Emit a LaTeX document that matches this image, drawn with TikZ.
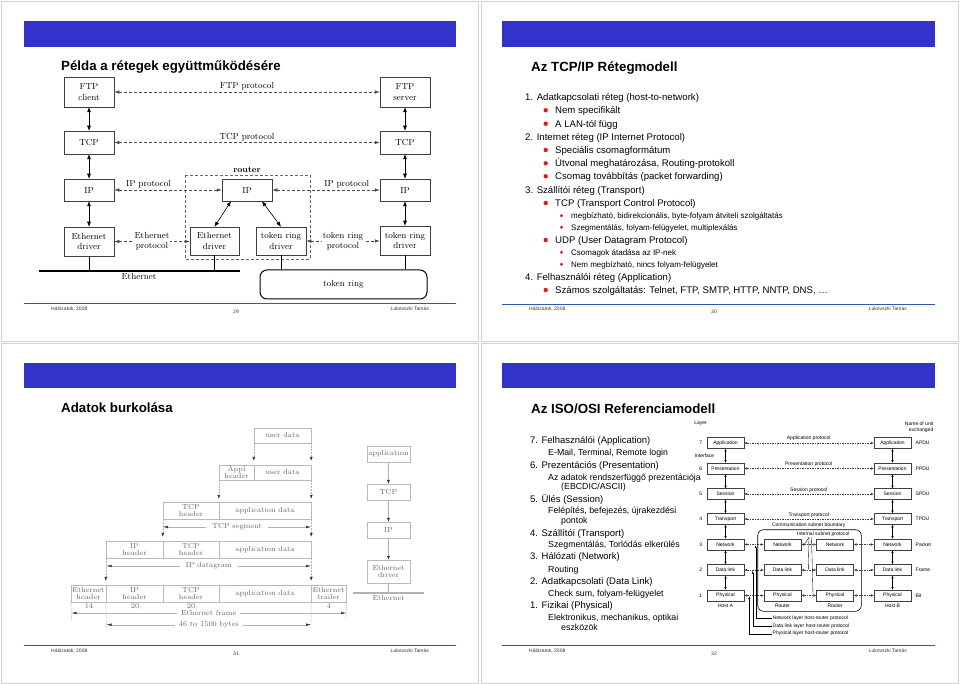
\documentclass[tikz,border=0pt]{standalone}
\usepackage{fontspec}
\newfontfamily\arial{Liberation Sans}
\usetikzlibrary{arrows.meta}
\definecolor{barblue}{RGB}{51,51,204}
\definecolor{footblue}{RGB}{51,85,187}
\definecolor{bred}{RGB}{225,25,25}
\tikzset{
  frame/.style={draw=gray!35, line width=0.6pt},
  ttl/.style={anchor=base west, inner sep=0pt, font=\arial\bfseries\fontsize{13.3}{16}\selectfont},
  fline/.style={draw=footblue, line width=0.8pt},
  foot/.style={inner sep=0pt, text=black!80, font=\arial\fontsize{5}{6}\selectfont},
  bx/.style={draw=black!75, line width=0.5pt, minimum width=50pt, inner sep=0pt, align=center, font=\fontsize{8.8}{10.6}\selectfont},
  darrow/.style={{Latex[length=5pt,width=4pt]}-{Latex[length=5pt,width=4pt]}, line width=0.6pt},
  dproto/.style={dash pattern=on 3pt off 2pt, draw=black!70, {Latex[length=5pt,width=3.5pt]}-{Latex[length=5pt,width=3.5pt]}, line width=0.5pt},
  lbl/.style={inner sep=1pt, align=center, font=\fontsize{8.8}{10}\selectfont},
  cell/.style={draw=gray!55, text=black!60, inner sep=0pt, align=center, font=\fontsize{7.3}{7.7}\selectfont},
  glbl/.style={inner sep=1pt, text=black!60, font=\fontsize{7.3}{8}\selectfont},
  varr/.style={draw=gray!60, dash pattern=on 1.5pt off 1.5pt, -{Latex[length=4pt,width=3pt,color=black!80]}, line width=0.4pt},
  span/.style={draw=gray!60, {Latex[length=5pt,width=2.5pt,color=black!80]}-{Latex[length=5pt,width=2.5pt,color=black!80]}, line width=0.4pt},
  sarr/.style={draw=gray!60, -{Latex[length=4pt,width=3pt,color=black!80]}, line width=0.4pt},
  ob/.style={draw=black!75, line width=0.4pt, minimum width=37pt, minimum height=11pt, inner sep=0pt, font=\arial\fontsize{5}{6}\selectfont},
  osiarr/.style={{Latex[length=2.6pt,width=2.3pt]}-{Latex[length=2.6pt,width=2.3pt]}, line width=0.4pt},
  osid/.style={dash pattern=on 1.5pt off 1pt, draw=black!75, {Latex[length=3pt,width=2.5pt]}-{Latex[length=3pt,width=2.5pt]}, line width=0.4pt},
  osil/.style={inner sep=0.5pt, font=\arial\fontsize{5}{6}\selectfont},
  hr/.style={{Latex[length=2.5pt,width=2pt]}-, line width=0.35pt},
}
\newcommand\litem[5]{\node[anchor=base west,inner sep=0pt,font=\arial\fontsize{#4}{#4}\selectfont] (#1) at (#2,#3) {#5};}
\newcommand\bul[3]{\fill[bred] (#1,#2) circle (#3);}
\begin{document}
\begin{tikzpicture}[x=1pt,y=-1pt]
\useasboundingbox (0,0) rectangle (960,684);
\fill[white] (0,0) rectangle (960,684);

% ================= slide chrome =================
\draw[frame] (1,1) rectangle (478,341);
\draw[frame] (481,1) rectangle (958,341);
\draw[frame] (1,343) rectangle (478,683);
\draw[frame] (481,343) rectangle (958,683);

\fill[barblue] (24,21) rectangle (456,47);
\node[ttl] (t1) at (61,71) {Példa a rétegek együttműködésére};
\draw[fline] (24,303) -- (456,303);
\node[foot, anchor=base west] (f1a) at (51,310) {Hálózatok, 2008};
\node[foot, anchor=base] (f1b) at (236,313) {29};
\node[foot, anchor=base east] (f1c) at (429,310) {Lukovszki Tamás};

\fill[barblue] (502,21) rectangle (935,47);
\node[ttl] (t2) at (531,71.5) {Az TCP/IP Rétegmodell};
\draw[fline] (502,304) -- (935,304);
\node[foot, anchor=base west] (f2a) at (529,310) {Hálózatok, 2008};
\node[foot, anchor=base] (f2b) at (714,313) {30};
\node[foot, anchor=base east] (f2c) at (907,310) {Lukovszki Tamás};

\fill[barblue] (24,363) rectangle (456,388);
\node[ttl] (t3) at (61,412.7) {Adatok burkolása};
\draw[fline] (24,645) -- (456,645);
\node[foot, anchor=base west] (f3a) at (51,652) {Hálózatok, 2008};
\node[foot, anchor=base] (f3b) at (236,655) {31};
\node[foot, anchor=base east] (f3c) at (429,652) {Lukovszki Tamás};

\fill[barblue] (502,363) rectangle (935,388);
\node[ttl] (t4) at (531,413.5) {Az ISO/OSI Referenciamodell};
\draw[fline] (502,645) -- (935,645);
\node[foot, anchor=base west] (f4a) at (529,652) {Hálózatok, 2008};
\node[foot, anchor=base] (f4b) at (714,655) {32};
\node[foot, anchor=base east] (f4c) at (907,652) {Lukovszki Tamás};

% ================= slide 1 diagram =================
\node[bx, minimum height=30pt] (fc) at (89,92) {FTP\\client};
\node[bx, minimum height=30pt] (fs) at (405,92) {FTP\\server};
\node[bx, minimum height=23pt] (tcpl) at (89,142.5) {TCP};
\node[bx, minimum height=23pt] (tcpr) at (405,142.5) {TCP};
\node[bx, minimum height=22pt] (ipl) at (89,190) {IP};
\node[bx, minimum height=22pt] (ipm) at (247,190) {IP};
\node[bx, minimum height=22pt] (ipr) at (405,190) {IP};
\node[bx, minimum height=29pt] (edl) at (89,241.5) {Ethernet\\driver};
\node[bx, minimum height=28pt, minimum width=49pt] (edm) at (214.5,241) {Ethernet\\driver};
\node[bx, minimum height=28pt] (trm) at (281,241) {token ring\\driver};
\node[bx, minimum height=29pt] (trr) at (405,240.5) {token ring\\driver};
\draw[draw=black!60, dash pattern=on 3pt off 2pt, line width=0.5pt] (185,175) rectangle (310,259);
\node[inner sep=0pt, font=\bfseries\fontsize{8.5}{10}\selectfont] (rtl) at (247,170) {router};

\coordinate (ethA) at (39,271);
\coordinate (ethB) at (240,271);
\draw[line width=1.3pt] (ethA) -- (ethB);
\node[lbl] (ethl) at (139,276.5) {Ethernet};
\node[draw, rounded corners=7pt, line width=1pt, minimum width=167pt, minimum height=29pt, font=\fontsize{8.8}{10}\selectfont] (tring) at (343.5,284.5) {token ring};
\draw[line width=0.5pt] (edl.south) -- (edl.south |- ethA);
\draw[line width=0.5pt] (edm.south) -- (edm.south |- ethA);
\draw[line width=0.5pt] (trm.south) -- (trm.south |- tring.north);
\draw[line width=0.5pt] (trr.south) -- (trr.south |- tring.north);

\draw[darrow] (fc) -- (tcpl);
\draw[darrow] (tcpl) -- (ipl);
\draw[darrow] (ipl) -- (edl);
\draw[darrow] (fs) -- (tcpr);
\draw[darrow] (tcpr) -- (ipr);
\draw[darrow] (ipr) -- (trr);
\draw[darrow] ([xshift=-16pt]ipm.south) -- (edm.north);
\draw[darrow] ([xshift=15pt]ipm.south) -- (trm.north);

\draw[dproto] (fc) -- (fs);
\draw[dproto] (tcpl) -- (tcpr);
\draw[dproto] (ipl) -- (ipm);
\draw[dproto] (ipm) -- (ipr);
\draw[dproto] (edl.east) -- (edl.east -| edm.west);
\draw[dproto] (trm.east) -- (trm.east -| trr.west);
\node[lbl] (p1) at (247,86) {FTP protocol};
\node[lbl] (p2) at (247,137) {TCP protocol};
\node[lbl] (p3) at (148.5,184.3) {IP protocol};
\node[lbl] (p4) at (346.7,184) {IP protocol};
\node[lbl, fill=white] (p5) at (152,241) {Ethernet\\protocol};
\node[lbl, fill=white] (p6) at (343,241) {token ring\\protocol};

% ================= slide 2 list =================
\litem{a1}{525}{100.7}{9.6}{1. Adatkapcsolati réteg (host-to-network)}
\bul{545.7}{110.3}{2.2pt}\litem{a2}{555}{113.7}{9.6}{Nem specifikált}
\bul{545.7}{123.7}{2.2pt}\litem{a3}{555}{127.1}{9.6}{A LAN-tól függ}
\litem{a4}{525}{140.1}{9.6}{2. Internet réteg (IP Internet Protocol)}
\bul{545.7}{150}{2.2pt}\litem{a5}{555}{153.4}{9.6}{Speciális csomagformátum}
\bul{545.7}{163.3}{2.2pt}\litem{a6}{555}{166.7}{9.6}{Útvonal meghatározása, Routing-protokoll}
\bul{545.7}{176.3}{2.2pt}\litem{a7}{555}{179.7}{9.6}{Csomag továbbítás (packet forwarding)}
\litem{a8}{525}{193.4}{9.6}{3. Szállítói réteg (Transport)}
\bul{545.7}{203}{2.2pt}\litem{a9}{555}{206.4}{9.6}{TCP (Transport Control Protocol)}
\bul{561.5}{215.7}{1.6pt}\litem{a10}{571}{218.6}{8}{megbízható, bidirekcionális, byte-folyam átviteli szolgáltatás}
\bul{561.5}{227.3}{1.6pt}\litem{a11}{571}{230.2}{8}{Szegmentálás, folyam-felügyelet, multiplexálás}
\bul{545.7}{240}{2.2pt}\litem{a12}{555}{243.4}{9.6}{UDP (User Datagram Protocol)}
\bul{561.5}{252.3}{1.6pt}\litem{a13}{571}{255.2}{8}{Csomagok átadása az IP-nek}
\bul{561.5}{264.3}{1.6pt}\litem{a14}{571}{267.2}{8}{Nem megbízható, nincs folyam-felügyelet}
\litem{a15}{525}{280.1}{9.6}{4. Felhasználói réteg (Application)}
\bul{545.7}{290}{2.2pt}\litem{a16}{555}{293.4}{9.6}{Számos szolgáltatás: Telnet, FTP, SMTP, HTTP, NNTP, DNS, …}

% ================= slide 3 diagram =================
\node[cell, minimum width=57pt, minimum height=15pt] (u1) at (282.5,435.5) {user data};
\node[cell, minimum width=35pt, minimum height=15pt] (a2) at (236.5,472.5) {Appl\\header};
\node[cell, minimum width=57pt, minimum height=15pt] (u2) at (282.5,472.5) {user data};
\node[cell, minimum width=56pt, minimum height=17pt] (t3) at (191,510.5) {TCP\\header};
\node[cell, minimum width=92pt, minimum height=17pt] (d3) at (265,510.5) {application data};
\node[cell, minimum width=57pt, minimum height=17pt] (i4) at (134.5,549.5) {IP\\header};
\node[cell, minimum width=56pt, minimum height=17pt] (t4) at (191,549.5) {TCP\\header};
\node[cell, minimum width=92pt, minimum height=17pt] (d4) at (265,549.5) {application data};
\node[cell, minimum width=35pt, minimum height=17pt] (e5) at (88.5,593.5) {Ethernet\\header};
\node[cell, minimum width=57pt, minimum height=17pt] (i5) at (134.5,593.5) {IP\\header};
\node[cell, minimum width=56pt, minimum height=17pt] (t5) at (191,593.5) {TCP\\header};
\node[cell, minimum width=92pt, minimum height=17pt] (d5) at (265,593.5) {application data};
\node[cell, minimum width=35pt, minimum height=17pt] (r5) at (328.5,593.5) {Ethernet\\trailer};

\draw[varr] (u1.south west) -- ([yshift=4pt]u2.north west);
\draw[varr] (u1.south east) -- ([yshift=4pt]u2.north east);
\draw[varr] (a2.south west) -- ([yshift=3pt]d3.north west);
\draw[varr] (u2.south east) -- ([yshift=3pt]d3.north east);
\draw[varr] (t3.south west) -- ([yshift=4pt]t4.north west);
\draw[varr] (d3.south east) -- ([yshift=4pt]d4.north east);
\draw[varr] (i4.south west) -- ([yshift=4pt]i5.north west);
\draw[varr] (d4.south east) -- ([yshift=4pt]d5.north east);

\coordinate (s1a) at (163,527); \coordinate (s1b) at (311,527);
\coordinate (s2a) at (106.5,566); \coordinate (s2b) at (311,566);
\coordinate (s3a) at (71.5,613); \coordinate (s3b) at (346,613);
\coordinate (s4a) at (106.5,624.7); \coordinate (s4b) at (311,624.7);
\draw[span] (s1a) -- node[glbl, fill=white, inner xsep=6pt] (sl1) {TCP segment} (s1b);
\draw[span] (s2a) -- node[glbl, fill=white, inner xsep=6pt] (sl2) {IP datagram} (s2b);
\draw[span] (s3a) -- node[glbl, fill=white, inner xsep=4pt] (sl3) {Ethernet frame} (s3b);
\draw[span] (s4a) -- node[glbl, fill=white, inner xsep=4pt] (sl4) {46 to 1500 bytes} (s4b);
\coordinate (v1) at (71.5,620); \coordinate (v2) at (346,620);
\coordinate (v3) at (106.5,629); \coordinate (v4) at (311,629);
\draw[gray!55, line width=0.4pt] (e5.south west) -- (v1);
\draw[gray!55, line width=0.4pt] (r5.south east) -- (v2);
\draw[gray!45, line width=0.4pt] (i5.south west) -- (v3);
\draw[gray!45, line width=0.4pt] (d5.south east) -- (v4);
\node[glbl] (n1) at (89,606.5) {14};
\node[glbl] (n2) at (135,606.5) {20};
\node[glbl] (n3) at (191,606.5) {20};
\node[glbl] (n4) at (329,606.5) {4};

\node[cell, minimum width=43pt, minimum height=16pt] (sa) at (388.5,454) {application};
\node[cell, minimum width=43pt, minimum height=16pt] (st) at (388.5,492) {TCP};
\node[cell, minimum width=43pt, minimum height=16pt] (si) at (388.5,530) {IP};
\node[cell, minimum width=43pt, minimum height=23pt] (se) at (388.5,571.5) {Ethernet\\driver};
\draw[sarr] (sa) -- (st);
\draw[sarr] (st) -- (si);
\draw[sarr] (si) -- (se);
\coordinate (eA) at (353,593); \coordinate (eB) at (424,593);
\draw[gray!60, line width=1.2pt] (eA) -- (eB);
\draw[gray!60, line width=0.4pt] (se.south) -- (se.south |- eA);
\node[glbl] (sel) at (388.5,598) {Ethernet};

% ================= slide 4 list =================
\litem{b1}{530}{443.7}{9.5}{7. Felhasználói (Application)}
\litem{b2}{548}{455.2}{8.8}{E-Mail, Terminal, Remote login}
\litem{b3}{530}{468.1}{9.5}{6. Prezentációs (Presentation)}
\litem{b4}{548}{480.2}{8.8}{Az adatok rendszerfüggő prezentációja}
\litem{b5}{561}{489.2}{8.8}{(EBCDIC/ASCII)}
\litem{b6}{530}{502.1}{9.5}{5. Ülés (Session)}
\litem{b7}{548}{513.9}{8.8}{Felépítés, befejezés, újrakezdési}
\litem{b8}{561}{523.2}{8.8}{pontok}
\litem{b9}{530}{536.1}{9.5}{4. Szállítói (Transport)}
\litem{b10}{548}{547.5}{8.8}{Szegmentálás, Torlódás elkerülés}
\litem{b11}{530}{559.7}{9.5}{3. Hálózati (Network)}
\litem{b12}{548}{572.2}{8.8}{Routing}
\litem{b13}{530}{584.1}{9.5}{2. Adatkapcsolati (Data Link)}
\litem{b14}{548}{596.2}{8.8}{Check sum, folyam-felügyelet}
\litem{b15}{530}{608.7}{9.5}{1. Fizikai (Physical)}
\litem{b16}{548}{620.5}{8.8}{Elektronikus, mechanikus, optikai}
\litem{b17}{561}{630.2}{8.8}{eszközök}

% ================= slide 4 OSI diagram =================
\node[ob] (l7) at (725.5,443) {Application};
\node[ob] (l6) at (725.5,468.5) {Presentation};
\node[ob] (l5) at (725.5,494) {Session};
\node[ob] (l4) at (725.5,519) {Transport};
\node[ob] (l3) at (725.5,544.5) {Network};
\node[ob] (l2) at (725.5,570) {Data link};
\node[ob] (l1) at (725.5,595.5) {Physical};
\node[ob] (r7) at (892.5,443) {Application};
\node[ob] (r6) at (892.5,468.5) {Presentation};
\node[ob] (r5) at (892.5,494) {Session};
\node[ob] (r4) at (892.5,519) {Transport};
\node[ob] (r3) at (892.5,544.5) {Network};
\node[ob] (r2) at (892.5,570) {Data link};
\node[ob] (r1) at (892.5,595.5) {Physical};
\node[ob] (x3) at (782.5,544.5) {Network};
\node[ob] (x2) at (782.5,570) {Data link};
\node[ob] (x1) at (782.5,595.5) {Physical};
\node[ob] (y3) at (835,544.5) {Network};
\node[ob] (y2) at (835,570) {Data link};
\node[ob] (y1) at (835,595.5) {Physical};

\foreach \a/\b in {7/6,6/5,5/4,4/3,3/2,2/1}{
  \draw[osiarr] (l\a) -- (l\b);
  \draw[osiarr] (r\a) -- (r\b);
}
\foreach \k in {7,6,5,4}{ \draw[osid] (l\k) -- (r\k); }
\foreach \k in {3,2,1}{
  \draw[osid] (l\k) -- (x\k);
  \draw[osid] (x\k) -- (y\k);
  \draw[osid] (y\k) -- (r\k);
}
\node[osil] (pa) at (808.7,438.7) {Application protocol};
\node[osil] (pp) at (808.7,464.5) {Presentation protocol};
\node[osil] (ps) at (808.7,490.2) {Session protocol};
\node[osil] (pt) at (808.7,515.2) {Transport protocol};
\node[osil] (pc) at (808.7,524.8) {Communication subnet boundary};
\draw[line width=0.6pt, rounded corners=6pt] (757.7,529.7) rectangle (861.3,611.3);
\node[osil] (pi) at (823.3,534.3) {Internal subnet protocol};
\coordinate (ap1) at (809,537.2);
\coordinate (ap2) at (811.5,537.2);
\coordinate (q3) at (804.5,544); \coordinate (q2) at (808.3,569.5); \coordinate (q1) at (813,595);
\draw[line width=0.35pt] (q3) -- (ap1) -- (q2);
\draw[line width=0.35pt] (ap2) -- (q1);

\foreach \k/\t in {7/443,6/468.5,5/494,4/519,3/544.5,2/570,1/595.5}{
  \node[osil] (ln\k) at (700.7,\t) {\k};
}
\node[osil] (layer) at (700.5,423.7) {Layer};
\node[osil] (iface) at (704.5,455.7) {Interface};
\node[osil, anchor=east] (nu1) at (934,424) {Name of unit};
\node[osil, anchor=east] (nu2) at (934,430.7) {exchanged};
\node[osil, anchor=west] (u7) at (915,443) {APDU};
\node[osil, anchor=west] (u6) at (915,468.5) {PPDU};
\node[osil, anchor=west] (u5) at (915,494) {SPDU};
\node[osil, anchor=west] (u4) at (915,519) {TPDU};
\node[osil, anchor=west] (u3) at (915,544.5) {Packet};
\node[osil, anchor=west] (u2x) at (915,570) {Frame};
\node[osil, anchor=west] (u1x) at (915,595.5) {Bit};
\node[osil] (ha) at (725.5,605.3) {Host A};
\node[osil] (hra) at (782.5,605.3) {Router};
\node[osil] (hrb) at (835,605.3) {Router};
\node[osil] (hb) at (892.5,605.3) {Host B};

\node[osil, anchor=west] (hl3) at (772,618) {Network layer host-router protocol};
\node[osil, anchor=west] (hl2) at (772,626) {Data link layer host-router protocol};
\node[osil, anchor=west] (hl1) at (772,633.7) {Physical layer host-router protocol};
\coordinate (hp3) at (755.7,545.5);
\coordinate (hp2) at (752.7,571);
\coordinate (hp1) at (749.3,596.5);
\draw[hr] (hp3) |- (hl3.west);
\draw[hr] (hp2) |- (hl2.west);
\draw[hr] (hp1) |- (hl1.west);
\end{tikzpicture}
\end{document}
